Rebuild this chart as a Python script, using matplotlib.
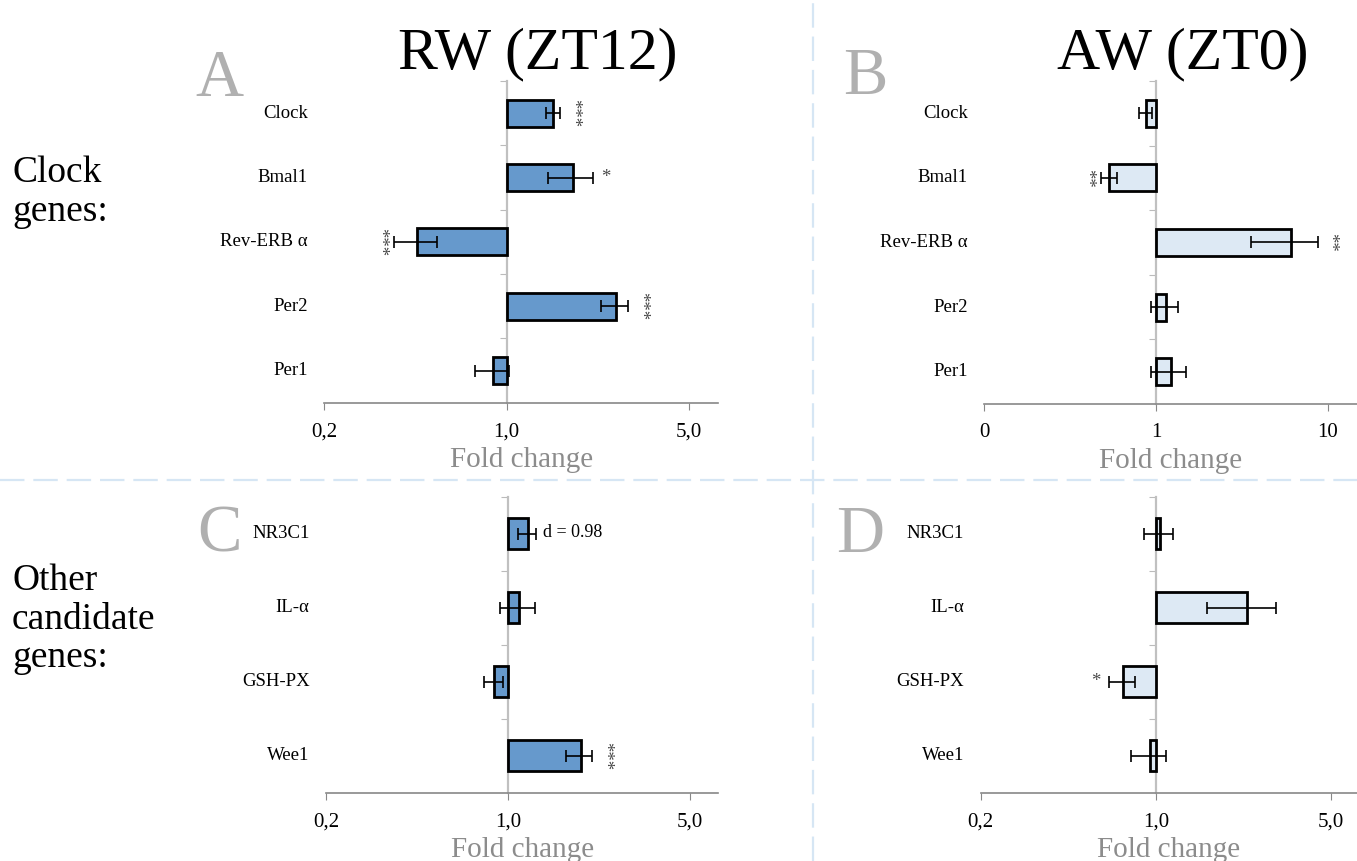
import numpy as np
import matplotlib
matplotlib.use("Agg")
import matplotlib.pyplot as plt
from matplotlib.lines import Line2D
from matplotlib.ticker import FixedLocator, NullLocator
import matplotlib.transforms as mtransforms

plt.rcParams["font.family"] = ["Liberation Serif", "DejaVu Serif"]

# ── data (fold change, bar end and error bar ends) ─────────────────────────────
clock_genes = ["Clock", "Bmal1", "Rev-ERB α", "Per2", "Per1"]
other_genes = ["NR3C1", "IL-α", "GSH-PX", "Wee1"]

a_val = [1.51, 1.80, 0.452, 2.62, 0.888]
a_lo  = [1.41, 1.44, 0.369, 2.30, 0.756]
a_hi  = [1.60, 2.15, 0.542, 2.92, 1.018]
a_sig = ["***", "*", "***", "***", ""]

b_val = [0.871, 0.532, 6.13, 1.139, 1.218]
b_lo  = [0.800, 0.476, 3.56, 0.939, 0.939]
b_hi  = [0.951, 0.595, 8.72, 1.349, 1.502]
b_sig = ["", "**", "**", "", ""]

c_val = [1.198, 1.102, 0.881, 1.904]
c_lo  = [1.096, 0.935, 0.806, 1.671]
c_hi  = [1.286, 1.267, 0.957, 2.112]
c_sig = ["d = 0.98", "", "", "***"]

d_val = [1.037, 2.316, 0.738, 0.944]
d_lo  = [0.898, 1.594, 0.653, 0.797]
d_hi  = [1.173, 3.015, 0.827, 1.099]
d_sig = ["", "", "*", ""]

ticks_ac  = [0.2, 1.0, 5.0]
labels_ac = ["0,2", "1,0", "5,0"]
ticks_b   = [0.1, 1.0, 10.0]
labels_b  = ["0", "1", "10"]

DARK  = "#6699cc"
LIGHT = "#dde9f4"
W, H = 1357, 861


def rect(x0, x1, ytop, ybot):
    return [x0 / W, 1 - ybot / H, (x1 - x0) / W, (ybot - ytop) / H]


def panel(fig, r, genes, val, lo, hi, sig, color, xlim, ticks, labels):
    ax = fig.add_axes(r)
    val, lo, hi = np.array(val), np.array(lo), np.array(hi)
    y = np.arange(len(genes))
    ax.set_xscale("log")
    ax.barh(y, val - 1, left=1, height=0.42, color=color,
            edgecolor="black", linewidth=2, zorder=3)
    ax.errorbar(val, y, xerr=[val - lo, hi - val], fmt="none", ecolor="black",
                elinewidth=1.2, capsize=4, capthick=1.2, zorder=4)
    ax.set_xlim(*xlim)
    ax.set_ylim(len(genes) - 0.5, -0.5)

    for s in ["top", "right"]:
        ax.spines[s].set_visible(False)
    ax.spines["left"].set_position(("data", 1))
    ax.spines["left"].set_color("#c0c0c0")
    ax.spines["left"].set_linewidth(1.6)
    ax.spines["bottom"].set_color("#888888")
    ax.spines["bottom"].set_linewidth(1.2)

    ax.xaxis.set_major_locator(FixedLocator(ticks))
    ax.xaxis.set_minor_locator(NullLocator())
    ax.set_xticklabels(labels)
    ax.tick_params(axis="x", direction="out", length=5, color="#888888",
                   labelsize=15, pad=9)
    ax.yaxis.set_major_locator(FixedLocator(np.arange(len(genes)) - 0.5))
    ax.set_yticklabels([])
    ax.tick_params(axis="y", direction="out", length=5, color="#bbbbbb")

    trans = mtransforms.blended_transform_factory(ax.transAxes, ax.transData)
    for i, g in enumerate(genes):
        ax.annotate(g, xy=(0, i), xycoords=trans, xytext=(-12, 0),
                    textcoords="offset points", ha="right", va="center",
                    fontsize=13.5)

    for i, s in enumerate(sig):
        if not s:
            continue
        if s.startswith("d"):
            ax.annotate(s, xy=(hi[i], i), xytext=(5, 1), textcoords="offset points",
                        ha="left", va="center", fontsize=13)
            continue
        right = val[i] >= 1
        xe = hi[i] if right else lo[i]
        rot = 270 if len(s) > 1 else 0
        ax.annotate(s, xy=(xe, i), xytext=(9 if right else -10, 0),
                    textcoords="offset points", ha="center", va="center",
                    fontsize=13.5, color="#4a4a4a", rotation=rot)

    ax.set_xlabel("Fold change", fontsize=21, color="#8c8c8c", labelpad=4)
    return ax


fig = plt.figure(figsize=(W / 100, H / 100), dpi=100)

panel(fig, rect(324.3, 718, 81, 402.7), clock_genes, a_val, a_lo, a_hi, a_sig,
      DARK, (0.2, 6.45), ticks_ac, labels_ac)
panel(fig, rect(984.3, 1357, 81, 404), clock_genes, b_val, b_lo, b_hi, b_sig,
      LIGHT, (0.1, 14.8), ticks_b, labels_b)
panel(fig, rect(326.3, 718.3, 497, 792.7), other_genes, c_val, c_lo, c_hi, c_sig,
      DARK, (0.2, 6.45), ticks_ac, labels_ac)
panel(fig, rect(980.7, 1357, 497, 792.7), other_genes, d_val, d_lo, d_hi, d_sig,
      LIGHT, (0.2, 6.35), ticks_ac, labels_ac)

# titles, panel letters, group labels
fig.text(538 / W, 1 - 68 / H, "RW (ZT12)", ha="center", va="baseline", fontsize=43)
fig.text(1183 / W, 1 - 68 / H, "AW (ZT0)", ha="center", va="baseline", fontsize=43)
for letter, x, yb in [("A", 219, 96), ("B", 865, 94), ("C", 220, 552), ("D", 860, 552)]:
    fig.text(x / W, 1 - yb / H, letter, ha="center", va="baseline",
             fontsize=48, color="#b0b0b0")
fig.text(12 / W, 1 - 156 / H, "Clock\ngenes:", ha="left", va="top",
         fontsize=27, linespacing=1.15)
fig.text(12 / W, 1 - 564 / H, "Other\ncandidate\ngenes:", ha="left", va="top",
         fontsize=27, linespacing=1.15)

# dashed separators
sep = dict(color="#d6e6f4", linewidth=1.6, linestyle=(0, (11, 4)),
           transform=fig.transFigure)
fig.add_artist(Line2D([0, 1], [1 - 479.5 / H, 1 - 479.5 / H], **sep))
fig.add_artist(Line2D([813 / W, 813 / W], [0, 1], **sep))

fig.savefig("out.png", dpi=100, facecolor="white")
